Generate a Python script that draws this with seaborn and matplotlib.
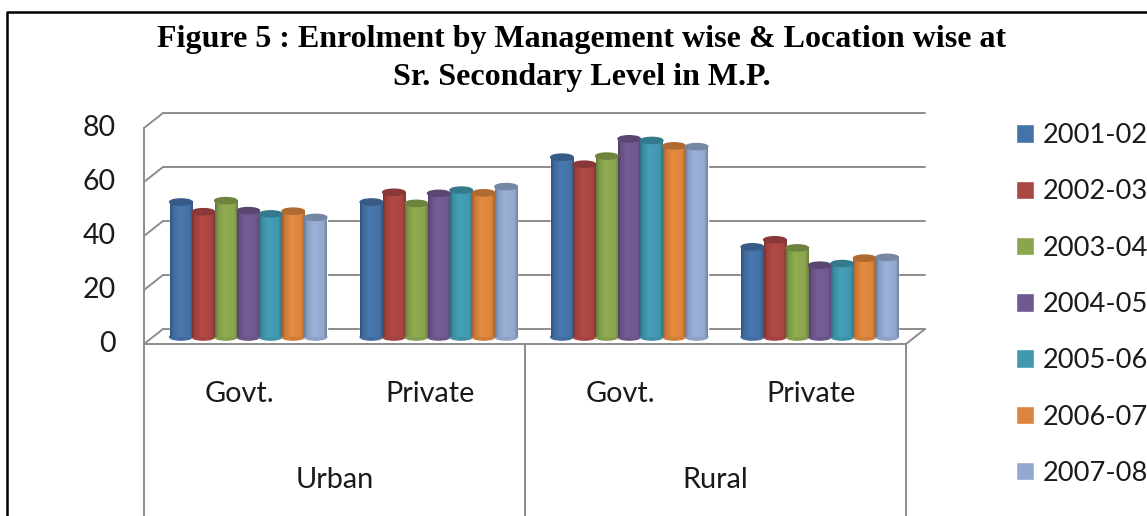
import matplotlib
matplotlib.use('Agg')
import matplotlib.pyplot as plt
import numpy as np
import pandas as pd
import seaborn as sns
from matplotlib.colors import to_rgb
from matplotlib.lines import Line2D
from matplotlib.patches import Ellipse
from matplotlib.transforms import Affine2D, IdentityTransform

# Data
years = ['2001-02', '2002-03', '2003-04', '2004-05', '2005-06', '2006-07', '2007-08']
categories = ['Urban Govt.', 'Urban Private', 'Rural Govt.', 'Rural Private']
urban_govt = [50, 46.4, 50.5, 46.8, 45.6, 46.6, 44.3]
urban_private = [50, 53.6, 49.5, 53.2, 54.4, 53.4, 55.7]
rural_govt = [66.6, 64, 67, 73.4, 72.8, 70.8, 70.5]
rural_private = [33.4, 36, 33, 26.6, 27.2, 29.2, 29.5]
y_ticks = [0, 20, 40, 60, 80]
colors = ['#4572A7', '#AA4643', '#89A54E', '#71588F', '#4198AF', '#DB843D', '#93A9CF']

df = pd.DataFrame({
    'Category': np.repeat(categories, len(years)),
    'Year': years * len(categories),
    'Value': urban_govt + urban_private + rural_govt + rural_private,
})

W, H = 1147, 516
sns.set_theme(style='white')
plt.rcParams['font.family'] = ['Lato', 'DejaVu Sans']
fig = plt.figure(figsize=(W / 100, H / 100), dpi=100)

# axes is the middle plane of the fake 3D box
ax = fig.add_axes([153 / W, 1 - 337 / H, 762 / W, 216 / H])
ax.patch.set_alpha(0)

sns.barplot(data=df, x='Category', y='Value', hue='Year', order=categories, hue_order=years,
            palette=colors, width=0.825, gap=0, saturation=1, errorbar=None, ax=ax, zorder=5)
ax.set_xlim(-0.5, 3.5)
ax.set_ylim(0, 80)
ax.set_xlabel('')
ax.set_ylabel('')
sns.despine(ax=ax, left=True, bottom=True)
ax.set_xticks([])
ax.set_yticks(y_ticks)
ax.tick_params(axis='y', length=0, pad=27, labelsize=20.5, labelcolor='#1a1a1a')
for lab in ax.get_yticklabels():
    lab.set_transform(lab.get_transform() + Affine2D().translate(0, -4))

# Walls of the box
grid_c = '#8c8c8c'
grid_lw = 1.4
back = ax.transData + Affine2D().translate(10, 8)
front = ax.transData + Affine2D().translate(-9, -7)
for v in y_ticks:
    ax.plot([-0.5, 3.5], [v, v], transform=back, color=grid_c, lw=grid_lw, zorder=1, clip_on=False)
    p0 = front.transform((-0.5, v))
    p1 = back.transform((-0.5, v))
    fig.add_artist(Line2D([p0[0], p1[0]], [p0[1], p1[1]], transform=IdentityTransform(), color=grid_c, lw=grid_lw))
ax.plot([-0.5, 3.5], [0, 0], transform=front, color=grid_c, lw=grid_lw, zorder=1, clip_on=False)
ax.plot([-0.5, -0.5], [0, 80], transform=front, color=grid_c, lw=grid_lw, zorder=1, clip_on=False)
p0 = front.transform((3.5, 0))
p1 = back.transform((3.5, 0))
fig.add_artist(Line2D([p0[0], p1[0]], [p0[1], p1[1]], transform=IdentityTransform(), color=grid_c, lw=grid_lw))

# Separators of the two level category axis
for x in [-0.5, 1.5, 3.5]:
    p0 = front.transform((x, 0))
    fig.add_artist(Line2D([p0[0], p0[0]], [p0[1], 0], transform=IdentityTransform(), color=grid_c, lw=grid_lw))

# Cylinder look: gradient body and dark cap on every bar
ell_h = 2.3
for cont, col in zip(ax.containers, colors):
    rgb = np.array(to_rgb(col))
    t = np.linspace(0, 1, 32)
    shade = np.interp(t, [0, 0.12, 0.4, 0.85, 1], [0.74, 0.92, 1.05, 1.0, 0.78])
    grad = np.clip(rgb[None, :] * shade[:, None], 0, 1)[None, :, :]
    for bar in cont:
        x0, w, h = bar.get_x(), bar.get_width(), bar.get_height()
        ax.add_patch(Ellipse((x0 + w / 2, 0), w, ell_h, color=rgb * 0.95, zorder=5, clip_on=False))
        ax.imshow(grad, extent=[x0, x0 + w, 0, h], aspect='auto', zorder=6, interpolation='bilinear')
        ax.add_patch(Ellipse((x0 + w / 2, h), w, ell_h, color=rgb * 0.8, zorder=7, clip_on=False))
ax.set_xlim(-0.5, 3.5)
ax.set_ylim(0, 80)

# Category labels, centred on the front plane
group_pos = [(0, 'Govt.'), (1, 'Private'), (2, 'Govt.'), (3, 'Private')]
for x, lab in group_pos:
    ax.annotate(lab, xy=(front.transform((x, 0))[0], 0), xycoords=('figure pixels', 'axes fraction'),
                xytext=(0, -57 * 0.72), textcoords='offset points', ha='center', va='center',
                fontsize=20.8, color='#1a1a1a')
for x, lab in [(0.5, 'Urban'), (2.5, 'Rural')]:
    ax.annotate(lab, xy=(front.transform((x, 0))[0], 0), xycoords=('figure pixels', 'axes fraction'),
                xytext=(0, -143 * 0.72), textcoords='offset points', ha='center', va='center',
                fontsize=20.8, color='#1a1a1a')

# Legend
handles, labels = ax.get_legend_handles_labels()
ax.legend(handles, labels, loc='upper left', bbox_to_anchor=(1016 / W, 1 - 123 / H),
          bbox_transform=fig.transFigure, frameon=False, fontsize=19.6, borderpad=0, borderaxespad=0,
          handlelength=0.66, handleheight=0.66, handletextpad=0.33, labelspacing=1.15, labelcolor='#1a1a1a')

# Title and black frame
fig.text(582 / W, 1 - 40 / H, 'Figure 5 : Enrolment by Management wise & Location wise at',
         family='Liberation Serif', fontweight='bold', fontsize=23, color='black', ha='center', va='center')
fig.text(582 / W, 1 - 77 / H, 'Sr. Secondary Level in M.P.',
         family='Liberation Serif', fontweight='bold', fontsize=23, color='black', ha='center', va='center')
fig.add_artist(Line2D([7 / W, 7 / W, 1], [0, 1 - 12 / H, 1 - 12 / H], transform=fig.transFigure, color='black', lw=1.8))

fig.savefig('out.png', dpi=100)
